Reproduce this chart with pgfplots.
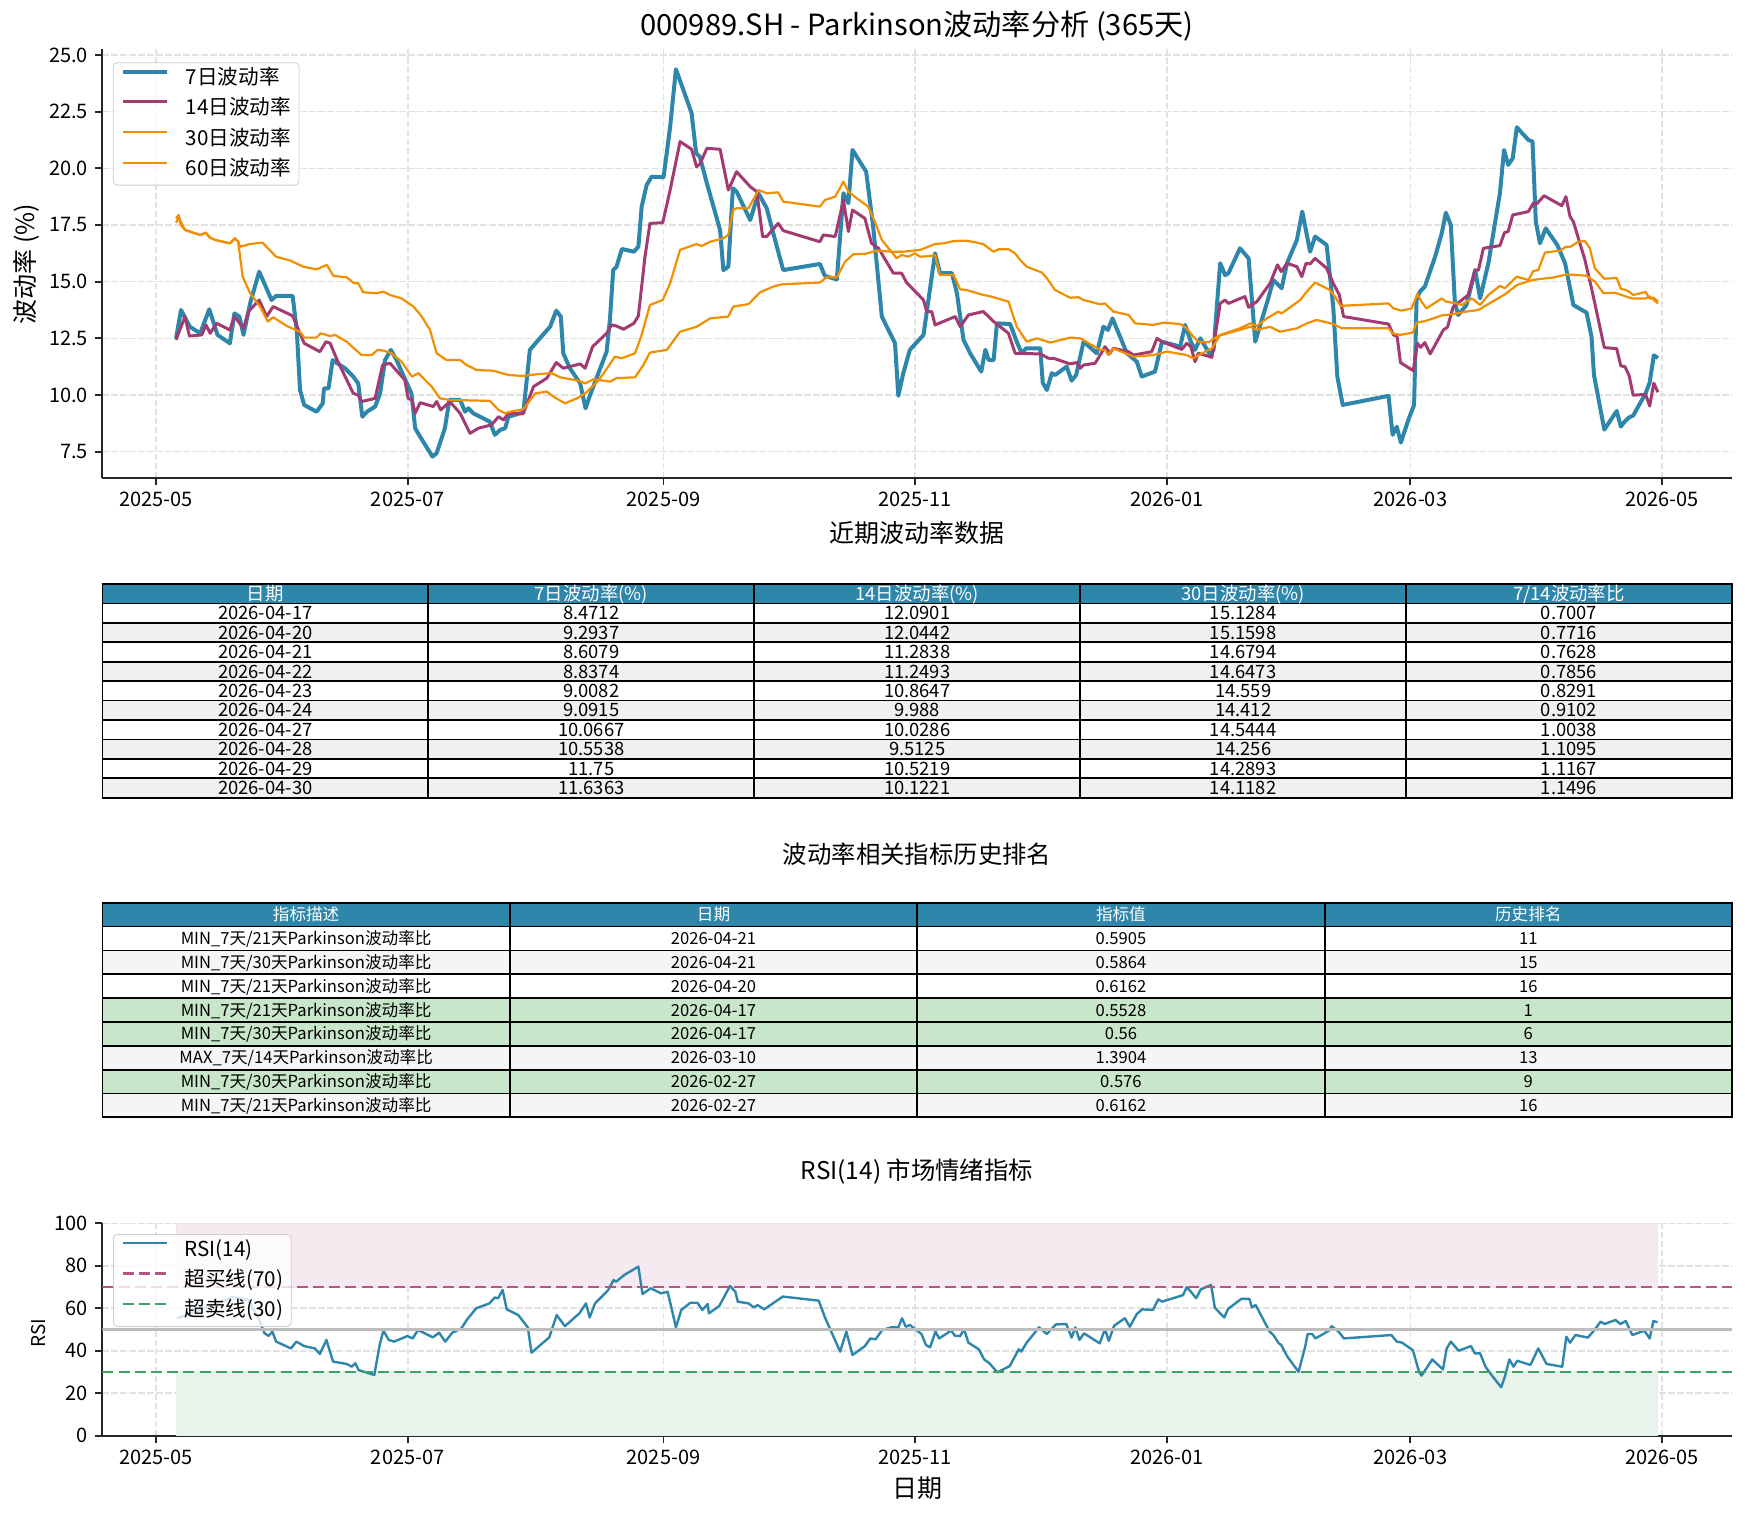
\documentclass[border=0pt]{standalone}
\usepackage{pgfplots}
\pgfplotsset{compat=1.18}
\usepackage{fontspec}
\setmainfont{Noto Sans CJK SC}
\definecolor{cblue}{HTML}{2E86AB}
\definecolor{cpurple}{HTML}{A23B72}
\definecolor{corange}{HTML}{F18F01}
\definecolor{cob}{RGB}{178,88,133}
\definecolor{cos}{RGB}{60,163,98}
\definecolor{cgrid}{RGB}{226,226,226}
\definecolor{cspine}{RGB}{38,38,38}
\definecolor{rowgray}{HTML}{F0F0F0}
\definecolor{rowgray2}{HTML}{F5F5F5}
\definecolor{rowgreen}{HTML}{C8E6C9}
\definecolor{fillpink}{RGB}{245,234,240}
\definecolor{fillgreen}{RGB}{232,243,236}

\pgfplotsset{
 mystyle/.style={
  scale only axis, width=814.9pt,
  xmin=-13, xmax=382, enlargelimits=false,
  axis x line*=bottom, axis y line*=left,
  axis line style={-, cspine, line width=1pt},
  tick align=outside, major tick length=3.65pt,
  major tick style={cspine, line width=0.9pt},
  xtick={0,61,123,184,245,304,365},
  xticklabels={2025-05,2025-07,2025-09,2025-11,2026-01,2026-03,2026-05},
  grid=major,
  major grid style={cgrid, line width=0.8pt, dash pattern=on 3.1pt off 1.4pt},
  tick label style={font=\fontsize{10}{12}\selectfont},
  /pgf/number format/assume math mode=true,
  legend cell align=left,
  legend style={at={(0,1)}, anchor=north west, xshift=5.2pt, yshift=-6.5pt,
    draw=black!20, fill=white, fill opacity=0.8, draw opacity=1, text opacity=1,
    rounded corners=2pt, inner xsep=4pt, inner ysep=1.8pt,
    font=\fontsize{10.3}{12}\selectfont, row sep=3.2pt,
    /tikz/every odd column/.append style={column sep=8.3pt},
    nodes={inner xsep=0pt, inner ysep=0pt, text height=9pt, text depth=3pt}},
  legend image code/.code={\draw[##1] (0pt,3.4pt) -- (22pt,3.4pt);},
  line join=round,
 }
}

\newcommand\tabrowA[6]{%
  \pgfmathsetmacro\tyy{584+(#1+0.5)*19.43}%
  \node at (265.36,\tyy) {#2};
  \node at (591.28,\tyy) {#3};
  \node at (917.2,\tyy) {#4};
  \node at (1243.12,\tyy) {#5};
  \node at (1569.04,\tyy) {#6};
}
\newcommand\tabrowB[5]{%
  \pgfmathsetmacro\tyy{902.7+(#1+0.5)*23.85}%
  \node at (306.1,\tyy) {#2};
  \node at (713.5,\tyy) {#3};
  \node at (1120.9,\tyy) {#4};
  \node at (1528.3,\tyy) {#5};
}

\begin{document}
\begin{tikzpicture}
\path (0pt,0pt) rectangle (872.5pt,-757.5pt);

% ---------------- top volatility chart ----------------
\begin{axis}[mystyle, at={(51.2pt,-24.65pt)}, anchor=north west, height=214.2pt,
  ymin=6.35, ymax=25.25, ytick={7.5,10,12.5,15,17.5,20,22.5,25},
  yticklabel style={/pgf/number format/fixed, /pgf/number format/fixed zerofill, /pgf/number format/precision=1}]
\addplot[cblue, line width=2.0pt] coordinates {
(4.85,12.5) (6.06,13.75) (8.2,13.01) (10.7,12.72) (12.9,13.78) (14.9,12.65) (17.9,12.28) (19.0,13.6) (20.2,13.46) (21.2,12.65) (22.8,14.04) (25.0,15.44) (28.0,14.19) (29.1,14.37) (33.1,14.37) (34.1,12.87) (34.9,10.22) (35.9,9.56) (38.9,9.26) (40.4,9.63) (40.7,10.29) (41.8,10.29) (42.8,11.54) (43.9,11.40) (45.8,11.18) (47.8,10.81) (49.0,10.51) (50.0,9.04) (51.1,9.26) (53.1,9.49) (54.3,10.07) (55.5,11.54) (56.9,11.99) (58.3,11.54) (60.6,10.59) (61.9,10.07) (62.8,8.53) (64.0,8.16) (67.0,7.28) (68.0,7.43) (70.0,8.53) (71.1,9.78) (73.7,9.78) (74.9,9.26) (75.7,9.41) (76.9,9.19) (80.9,8.82) (82.1,8.24) (83.4,8.46) (84.6,8.53) (85.4,9.04) (88.2,9.19) (89.0,9.19) (90.6,11.99) (92.3,12.35) (95.5,13.01) (97.0,13.72) (98.1,13.46) (98.7,11.84) (100.3,11.18) (102.8,10.51) (104.1,9.41) (105.2,10.0) (109.2,11.91) (110.0,13.31) (110.8,15.51) (111.6,15.66) (112.9,16.44) (115.8,16.32) (116.9,16.54) (117.7,18.31) (118.9,19.26) (120.1,19.63) (123.0,19.6) (124.6,21.84) (126.0,24.37) (127.8,23.46) (129.8,22.43) (130.9,20.66) (131.8,20.51) (133.5,19.34) (136.7,17.28) (137.5,15.51) (138.7,15.66) (139.8,19.12) (140.7,18.97) (144.0,17.72) (146.0,18.9) (148.0,18.24) (149.6,17.13) (152.0,15.51) (160.9,15.78) (162.1,15.25) (165.0,15.1) (166.6,18.9) (167.8,18.46) (168.8,20.81) (172.1,19.85) (173.8,17.43) (175.9,13.46) (179.1,12.28) (179.9,9.96) (181.1,10.96) (182.7,11.99) (186.0,12.65) (187.2,14.19) (188.8,16.25) (190.0,15.37) (192.9,15.37) (194.1,14.49) (195.7,12.43) (197.3,11.84) (200.0,11.03) (201.0,11.99) (201.8,11.54) (203.0,11.54) (203.8,13.16) (207.0,13.13) (208.6,12.35) (209.8,11.84) (210.9,12.06) (214.3,12.06) (214.9,10.54) (215.9,10.22) (217.1,10.96) (217.9,10.88) (220.7,11.25) (221.9,10.63) (223.0,10.88) (224.8,12.35) (228.0,11.84) (229.6,13.01) (230.7,12.87) (231.8,13.38) (235.3,11.84) (237.7,11.47) (238.9,10.81) (242.1,11.03) (243.8,12.35) (248.2,12.13) (249.4,13.09) (250.8,12.35) (251.8,11.99) (253.1,12.5) (255.5,11.76) (256.3,11.99) (257.9,15.81) (259.1,15.29) (259.9,15.37) (262.7,16.47) (264.8,16.03) (266.4,12.35) (267.0,12.72) (269.2,14.04) (270.8,15.07) (272.8,14.71) (274.1,15.81) (276.5,16.84) (277.8,18.09) (279.7,16.32) (280.9,16.99) (283.7,16.62) (285.3,13.9) (286.3,10.81) (287.6,9.56) (298.7,9.96) (299.7,8.24) (300.7,8.6) (301.7,7.9) (303.5,8.9) (304.9,9.56) (305.5,14.19) (306.3,14.56) (307.5,14.78) (310.0,16.1) (311.6,17.13) (312.6,18.04) (313.8,17.5) (314.8,14.04) (315.6,13.53) (317.6,13.97) (319.7,15.51) (320.9,14.26) (322.9,15.81) (325.7,18.9) (326.7,20.81) (327.7,20.15) (328.8,20.44) (329.8,21.81) (332.6,21.25) (333.6,21.18) (334.4,17.65) (335.4,16.69) (336.8,17.35) (339.6,16.62) (341.5,15.81) (343.5,13.97) (346.7,13.63) (347.9,12.57) (348.5,10.88) (351,8.4712) (354,9.2937) (355,8.6079) (356,8.8374) (357,9.0082) (358,9.0915) (361,10.0667) (362,10.5538) (363,11.75) (364,11.6363)
};
\addlegendentry{7日波动率}
\addplot[cpurple, line width=1.5pt] coordinates {
(4.85,12.43) (7.0,13.46) (8.1,12.6) (11.1,12.65) (12.1,13.09) (13.1,12.72) (14.7,13.16) (17.9,12.87) (19.0,13.46) (21.2,12.94) (22.4,13.68) (25.0,14.19) (26.8,13.46) (28.4,13.9) (33.1,13.49) (35.9,12.28) (39.7,11.91) (41.2,12.35) (42.2,12.28) (43.9,11.54) (47.8,10.07) (49.0,10.0) (49.8,9.71) (53.1,9.85) (54.9,11.32) (56.7,11.4) (60.3,10.66) (61.1,9.85) (62.0,9.78) (62.8,9.19) (64.0,9.66) (67.2,9.49) (68.0,9.71) (69.0,9.34) (71.2,9.71) (73.7,9.19) (76.1,8.31) (78.1,8.53) (81.3,8.68) (83.0,9.04) (84.2,8.9) (85.4,9.19) (89.0,9.19) (91.5,10.37) (94.7,10.74) (97.0,11.43) (98.7,11.18) (102.8,11.37) (104.0,11.18) (105.8,12.13) (109.2,12.72) (110.4,13.09) (111.6,13.04) (113.3,12.9) (115.8,13.16) (116.9,13.49) (118.5,16.1) (119.7,17.57) (122.8,17.6) (124.6,19.04) (127.0,21.18) (129.8,20.84) (131.0,20.07) (131.8,20.19) (133.5,20.88) (136.7,20.84) (138.7,19.04) (140.7,19.85) (144.0,19.19) (145.6,18.97) (147.0,16.99) (148.0,16.99) (150.8,17.57) (152.0,17.25) (160.9,16.76) (161.7,17.06) (164.6,16.99) (166.6,18.6) (167.8,17.21) (168.8,18.16) (171.8,17.79) (173.4,16.69) (175.1,16.47) (178.7,15.37) (180.7,15.37) (181.9,14.96) (186.0,14.19) (186.8,13.68) (188.0,13.68) (188.8,13.09) (193.7,13.46) (194.9,13.01) (196.9,13.53) (200.5,13.68) (203.0,13.24) (206.6,12.72) (208.2,11.84) (214.3,11.81) (216.3,11.62) (217.5,11.62) (221.5,11.37) (223.2,11.43) (224.0,11.18) (224.8,11.32) (227.6,11.4) (228.8,11.76) (230.0,12.13) (231.2,11.84) (232.0,12.06) (235.7,11.91) (236.9,11.76) (241.3,11.91) (242.6,12.5) (243.8,12.35) (248.6,12.01) (249.8,12.28) (250.8,12.13) (251.8,11.47) (252.6,11.84) (255.9,11.66) (257.9,14.04) (259.1,14.19) (259.9,14.04) (263.9,14.34) (264.8,13.87) (266.8,14.12) (270.0,14.93) (271.8,15.74) (272.7,15.44) (274.1,15.81) (276.5,15.66) (277.7,15.22) (278.7,15.81) (279.7,15.78) (280.9,16.03) (283.7,15.59) (285.3,14.93) (286.8,14.41) (287.8,13.46) (298.7,13.13) (299.9,12.65) (300.8,12.57) (301.6,11.43) (304.7,11.07) (305.7,12.28) (306.5,12.1) (307.5,12.31) (308.8,11.81) (312.0,12.87) (313.0,12.99) (314.4,13.9) (316.0,14.12) (318.0,14.41) (319.7,15.51) (320.5,15.51) (321.7,16.47) (325.7,16.59) (326.8,17.16) (327.7,17.21) (328.8,17.94) (332.6,18.09) (333.8,18.46) (334.6,18.43) (336.4,18.79) (340.7,18.35) (341.7,18.75) (342.7,17.87) (343.5,17.65) (346.3,15.96) (347.9,14.71) (348.7,14.04) (351,12.0901) (354,12.0442) (355,11.2838) (356,11.2493) (357,10.8647) (358,9.988) (361,10.0286) (362,9.5125) (363,10.5219) (364,10.1221)
};
\addlegendentry{14日波动率}
\addplot[corange, line width=1.1pt] coordinates {
(4.85,17.79) (5.5,17.94) (5.8,17.72) (7.0,17.28) (10.7,17.06) (12.1,17.16) (13.0,16.95) (14.3,16.84) (17.9,16.69) (19.1,16.91) (19.9,16.76) (21.0,15.22) (22.8,14.49) (25.2,13.9) (27.1,13.24) (28.4,13.43) (31.7,13.04) (34.9,12.79) (35.9,12.53) (38.9,12.53) (39.9,12.72) (42.2,12.6) (43.4,12.65) (46.2,12.35) (49.8,11.76) (52.3,11.76) (53.7,11.99) (55.1,11.96) (57.1,11.84) (59.5,11.47) (62.0,10.81) (63.6,10.96) (66.8,10.37) (68.8,9.85) (71.2,9.78) (80.9,9.74) (83.0,9.34) (84.6,9.19) (85.8,9.26) (89.0,9.37) (91.9,10.07) (94.7,10.15) (96.3,9.93) (99.1,9.63) (102.0,9.85) (104.0,10.07) (107.2,10.63) (109.6,11.25) (111.2,11.69) (112.9,11.62) (116.1,11.84) (117.7,12.65) (119.7,13.97) (122.8,14.19) (124.6,14.93) (127.0,16.4) (131.0,16.66) (132.2,16.57) (134.3,16.76) (137.5,16.91) (138.7,17.06) (139.9,18.16) (140.7,18.24) (143.6,18.24) (146.0,19.04) (148.0,18.9) (150.8,18.94) (152.0,18.53) (160.9,18.31) (162.1,18.6) (164.6,18.75) (166.6,19.41) (167.8,18.97) (169.8,18.68) (172.6,18.31) (174.2,17.65) (175.9,16.84) (179.5,16.03) (180.7,16.18) (182.3,16.1) (183.9,16.25) (185.2,16.1) (187.6,16.13) (188.8,16.18) (190.0,15.29) (193.3,15.29) (194.9,14.66) (196.5,14.63) (200.5,14.41) (201.8,14.37) (206.6,14.12) (208.6,13.01) (211.0,12.35) (213.5,12.5) (216.7,12.31) (221.5,12.53) (224.0,12.5) (228.8,11.99) (230.0,11.99) (230.8,11.76) (232.0,12.06) (236.9,11.69) (241.7,11.76) (245.0,11.91) (249.8,11.76) (251.4,11.62) (253.5,11.84) (255.9,12.06) (257.9,12.65) (262.7,12.94) (265.2,13.16) (266.8,13.04) (269.2,13.38) (272.0,13.68) (272.8,13.6) (277.3,14.19) (278.9,14.56) (280.9,14.96) (282.1,14.85) (284.5,14.63) (285.7,14.34) (287.1,13.93) (298.7,14.04) (299.9,13.82) (301.9,13.72) (304.3,13.82) (305.7,14.46) (306.7,14.12) (307.9,13.82) (311.6,14.26) (312.6,14.12) (315.2,14.04) (316.4,13.97) (318.9,14.26) (320.9,13.97) (322.9,14.41) (325.7,14.81) (326.9,14.71) (329.8,15.22) (332.6,15.07) (333.8,15.47) (335.0,15.51) (336.6,16.28) (340.3,16.37) (341.7,16.54) (342.8,16.54) (344.7,16.76) (346.3,16.79) (347.5,16.47) (348.7,15.59) (351,15.1284) (354,15.1598) (355,14.6794) (356,14.6473) (357,14.559) (358,14.412) (361,14.5444) (362,14.256) (363,14.2893) (364,14.1182)
};
\addlegendentry{30日波动率}
\addplot[corange, line width=1.1pt] coordinates {
(4.85,17.6) (5.5,17.85) (6.0,17.5) (7.0,17.28) (10.7,17.06) (12.1,17.16) (13.0,16.95) (14.3,16.84) (17.9,16.69) (19.1,16.91) (19.9,16.76) (20.4,16.54) (22.8,16.66) (25.8,16.72) (29.1,16.1) (32.5,15.93) (35.7,15.66) (38.9,15.54) (41.4,15.74) (43.0,15.25) (46.2,15.19) (48.0,14.93) (49.0,14.93) (50.2,14.53) (53.5,14.49) (55.1,14.56) (56.7,14.41) (59.5,14.26) (62.4,13.9) (64.4,13.46) (66.4,12.87) (68.0,11.84) (70.4,11.54) (73.7,11.54) (75.3,11.32) (77.7,11.1) (81.7,11.07) (85.4,10.88) (89.0,10.84) (93.1,10.93) (95.9,10.96) (97.9,10.78) (102.4,10.63) (104.0,10.51) (106.0,10.69) (110.0,10.59) (111.6,10.74) (116.1,10.78) (118.1,11.32) (119.7,11.87) (123.8,11.99) (127.0,12.79) (131.0,13.01) (134.3,13.38) (138.7,13.46) (139.9,13.9) (143.6,14.01) (146.4,14.53) (149.6,14.78) (151.6,14.88) (160.9,14.96) (162.5,15.19) (165.0,15.19) (167.0,15.88) (169.0,16.21) (171.8,16.22) (174.7,16.37) (178.3,16.32) (181.1,16.32) (185.2,16.4) (188.8,16.66) (190.9,16.69) (193.3,16.79) (196.1,16.81) (198.5,16.74) (200.5,16.65) (203.0,16.32) (204.2,16.43) (206.6,16.43) (208.2,16.25) (209.4,15.96) (211.0,15.66) (214.7,15.4) (215.9,15.15) (217.9,14.63) (221.5,14.29) (223.6,14.31) (224.8,14.19) (228.8,14.0) (230.0,14.04) (232.0,13.68) (235.7,13.53) (237.3,13.16) (241.7,13.09) (244.2,13.19) (248.2,13.13) (249.8,12.94) (251.4,12.57) (252.6,12.35) (255.1,12.32) (257.1,12.57) (258.3,12.65) (262.7,12.87) (265.2,13.01) (266.8,12.87) (270.0,13.01) (272.4,12.79) (276.5,12.94) (278.9,13.16) (281.3,13.31) (285.3,13.13) (287.4,12.94) (298.7,12.94) (299.7,12.72) (301.5,12.65) (304.6,12.75) (305.5,13.19) (307.5,13.26) (309.6,13.38) (311.6,13.51) (314.4,13.57) (317.6,13.68) (320.5,13.75) (322.5,13.97) (325.7,14.31) (327.3,14.49) (329.8,14.85) (333.0,15.04) (334.6,15.1) (338.6,15.18) (341.9,15.32) (346.7,15.26) (348.7,15.0) (350.8,14.49) (353.6,14.51) (357.6,14.26) (360.9,14.26) (362.1,14.34) (364,14.04)
};
\addlegendentry{60日波动率}
\end{axis}

% ---------------- RSI chart ----------------
\begin{axis}[mystyle, at={(51.2pt,-611.65pt)}, anchor=north west, height=106.2pt,
  ymin=0, ymax=100, ytick={0,20,40,60,80,100},
  legend style={xshift=0.1pt, yshift=1.15pt}]
\addplot[fill=fillpink, draw=cpurple!15, line width=0.5pt, forget plot] coordinates {(5,70) (364,70) (364,100) (5,100) (5,70)};
\addplot[fill=fillgreen, draw=cos!15, line width=0.5pt, forget plot] coordinates {(5,0) (364,0) (364,30) (5,30) (5,0)};
\addplot[cblue, line width=1.2pt] coordinates {
(5,55.3) (7,56.5) (9,58) (11,59.5) (13,61) (15,62.5) (17,64) (18.5,65.3) (20.1,64.7) (22.4,63.9) (25,54.5) (26.3,48.2) (27.3,47) (28.2,49) (29.1,44.3) (32.7,41.1) (34,44.3) (35.9,42.2) (38.5,41.1) (39.7,38.5) (41.3,45.1) (42.9,34.9) (46.2,33.8) (47.4,32.5) (48.3,34.1) (49.1,30.9) (52.9,28.6) (54.2,42.7) (55.1,49.5) (56.4,45.1) (57.7,44.3) (60.9,46.9) (62.2,45.8) (63.5,49.8) (67.1,46.3) (68.6,48.5) (70.1,44.3) (71.8,48.5) (74,50.5) (75.3,54.5) (77.6,60) (80.8,62.3) (82.1,65.1) (82.9,64.7) (84,68.6) (85,59.5) (87.8,56.8) (90.1,51) (91,39.1) (95.3,46.3) (97.1,56.8) (99.1,51.6) (102.6,57.6) (104.2,62.3) (105.1,55.7) (106.4,62.3) (109.6,68.6) (110.9,73.3) (111.5,72.5) (113.5,75.7) (116.9,79.6) (117.9,66.7) (119.9,69.4) (122.4,67) (124,67.8) (126,51) (127.3,59.2) (129.5,62.6) (131.2,62.6) (132.4,59.2) (133.7,62) (134,57.6) (136.5,61.1) (139.1,70.5) (140.4,67.8) (141,63.1) (143.6,62.3) (144.9,60.4) (145.8,61.5) (147.4,59.5) (151.9,65.5) (160.6,63.6) (162.2,55.3) (165.8,39.6) (167.3,49) (168.8,38) (171.8,42.2) (173.1,45.8) (174.4,45.4) (176,49.8) (178.2,51) (179.9,51) (180.8,55.3) (181.7,51.3) (182.7,52.1) (185.5,47.9) (186.6,42.7) (187.6,41.6) (188.9,49) (189.8,45.8) (192.7,49.5) (193.6,47.1) (194.9,46.9) (195.8,50.2) (196.9,43.8) (199.4,40.7) (200.7,35.9) (202,34.1) (203.9,29.8) (206.9,32.8) (209.1,40.7) (209.7,39.6) (211,43.8) (214,51) (215.9,47.9) (218.1,52.4) (220.6,52.6) (221.9,46.2) (222.8,51) (223.8,45.1) (224.9,48.2) (228.7,43.5) (230,50.2) (230.9,44.6) (232.2,51.8) (234.8,55.3) (236,51.3) (237.7,57.3) (239,59.5) (241.6,59.2) (242.9,64.2) (243.8,63.1) (248.9,66.2) (249.8,69.9) (250.8,67.8) (252.1,64.7) (253.2,68.9) (255.7,71) (256.6,60.3) (257.9,57.6) (258.9,55.7) (259.8,59.7) (263,64.4) (265,64.4) (265.6,60.4) (266.5,61.5) (269.9,49) (270.8,47.4) (272.1,43.5) (272.7,42.7) (274.2,37.2) (276.9,30.1) (278.5,41.9) (279.1,47.9) (280.2,47.9) (281,45.8) (284.3,49.5) (284.9,51.6) (286.6,49) (287.9,45.8) (299.4,47.4) (300.7,44.3) (302,43.8) (304.6,40.3) (306.1,30.1) (306.7,28.3) (309.3,35.9) (311.9,31.2) (312.8,41.1) (313.8,44.3) (315.7,40) (318.7,42.2) (319.6,38.8) (320.9,38.8) (322.2,32.5) (323.5,29) (326,22.8) (326.9,27.8) (328,35.9) (329,32.5) (329.9,35.3) (333.1,33.3) (335,41.1) (337,33.8) (340.8,32.5) (341.8,46.6) (342.7,43.8) (344,47.4) (347,46.2) (348.5,49.5) (350.1,53.7) (351.1,52.6) (353.7,54.5) (354.9,52.6) (356.2,54) (357.8,47.4) (360.7,49.5) (362,45.8) (362.9,54) (363.9,53.4)
};
\addlegendentry{RSI(14)}
\addplot[cob, line width=1.3pt, dash pattern=on 5.5pt off 2.6pt] coordinates {(-13,70) (382,70)};
\addlegendentry{超买线(70)}
\addplot[cos, line width=1.3pt, dash pattern=on 5.5pt off 2.6pt] coordinates {(-13,30) (382,30)};
\addlegendentry{超卖线(30)}
\addplot[black!26, line width=1.5pt, forget plot] coordinates {(-13,50) (382,50)};
\end{axis}

% ---------------- texts ----------------
\node[font=\fontsize{14.6}{17}\selectfont] at (458.5pt,-13pt) {000989.SH - Parkinson波动率分析 (365天)};
\node[rotate=90, font=\fontsize{12.5}{14}\selectfont] at (13pt,-132pt) {波动率 (\%)};
\node[font=\fontsize{12.5}{14}\selectfont] at (458.5pt,-266.5pt) {近期波动率数据};
\node[font=\fontsize{12.2}{14}\selectfont] at (458.5pt,-426.85pt) {波动率相关指标历史排名};
\node[font=\fontsize{12.2}{14}\selectfont] at (458.5pt,-585.8pt) {RSI(14) 市场情绪指标};
\node[rotate=90, font=\fontsize{9.5}{11}\selectfont] at (19.5pt,-666.5pt) {RSI};
\node[font=\fontsize{12.5}{14}\selectfont] at (458.5pt,-744pt) {日期};

% ---------------- tables ----------------
\begin{scope}[x=0.5pt, y=-0.5pt]
 % table 1
 \fill[cblue] (102.4,584) rectangle (1732,603.43);
 \foreach \r in {2,4,6,8,10} {\fill[rowgray] (102.4,{584+\r*19.43}) rectangle (1732,{584+(\r+1)*19.43});}
 \foreach \k in {0,...,11} {\draw[line width=0.9pt, line cap=rect] (102.4,{584+\k*19.43}) -- (1732,{584+\k*19.43});}
 \foreach \k in {0,...,5} {\draw[line width=0.9pt, line cap=rect] ({102.4+\k*325.92},584) -- ({102.4+\k*325.92},797.73);}
 \begin{scope}[every node/.style={font=\fontsize{9.2}{11}\selectfont, inner sep=0pt, text height=6.6pt, text depth=0pt}]
  \begin{scope}[every node/.append style={text=white}]
   \tabrowA{0}{日期}{7日波动率(\%)}{14日波动率(\%)}{30日波动率(\%)}{7/14波动率比}
  \end{scope}
  \tabrowA{1}{2026-04-17}{8.4712}{12.0901}{15.1284}{0.7007}
  \tabrowA{2}{2026-04-20}{9.2937}{12.0442}{15.1598}{0.7716}
  \tabrowA{3}{2026-04-21}{8.6079}{11.2838}{14.6794}{0.7628}
  \tabrowA{4}{2026-04-22}{8.8374}{11.2493}{14.6473}{0.7856}
  \tabrowA{5}{2026-04-23}{9.0082}{10.8647}{14.559}{0.8291}
  \tabrowA{6}{2026-04-24}{9.0915}{9.988}{14.412}{0.9102}
  \tabrowA{7}{2026-04-27}{10.0667}{10.0286}{14.5444}{1.0038}
  \tabrowA{8}{2026-04-28}{10.5538}{9.5125}{14.256}{1.1095}
  \tabrowA{9}{2026-04-29}{11.75}{10.5219}{14.2893}{1.1167}
  \tabrowA{10}{2026-04-30}{11.6363}{10.1221}{14.1182}{1.1496}
 \end{scope}
 % table 2
 \fill[cblue] (102.4,902.7) rectangle (1732,926.55);
 \foreach \r/\c in {2/rowgray2,4/rowgreen,5/rowgreen,6/rowgray2,7/rowgreen,8/rowgray2} {\fill[\c] (102.4,{902.7+\r*23.85}) rectangle (1732,{902.7+(\r+1)*23.85});}
 \foreach \k in {0,...,9} {\draw[line width=0.9pt, line cap=rect] (102.4,{902.7+\k*23.85}) -- (1732,{902.7+\k*23.85});}
 \foreach \k in {0,...,4} {\draw[line width=0.9pt, line cap=rect] ({102.4+\k*407.4},902.7) -- ({102.4+\k*407.4},1117.35);}
 \begin{scope}[every node/.style={font=\fontsize{8.3}{10}\selectfont, inner sep=0pt, text height=6pt, text depth=0pt}]
  \begin{scope}[every node/.append style={text=white}]
   \tabrowB{0}{指标描述}{日期}{指标值}{历史排名}
  \end{scope}
  \tabrowB{1}{MIN\_7天/21天Parkinson波动率比}{2026-04-21}{0.5905}{11}
  \tabrowB{2}{MIN\_7天/30天Parkinson波动率比}{2026-04-21}{0.5864}{15}
  \tabrowB{3}{MIN\_7天/21天Parkinson波动率比}{2026-04-20}{0.6162}{16}
  \tabrowB{4}{MIN\_7天/21天Parkinson波动率比}{2026-04-17}{0.5528}{1}
  \tabrowB{5}{MIN\_7天/30天Parkinson波动率比}{2026-04-17}{0.56}{6}
  \tabrowB{6}{MAX\_7天/14天Parkinson波动率比}{2026-03-10}{1.3904}{13}
  \tabrowB{7}{MIN\_7天/30天Parkinson波动率比}{2026-02-27}{0.576}{9}
  \tabrowB{8}{MIN\_7天/21天Parkinson波动率比}{2026-02-27}{0.6162}{16}
 \end{scope}
\end{scope}
\end{tikzpicture}
\end{document}
